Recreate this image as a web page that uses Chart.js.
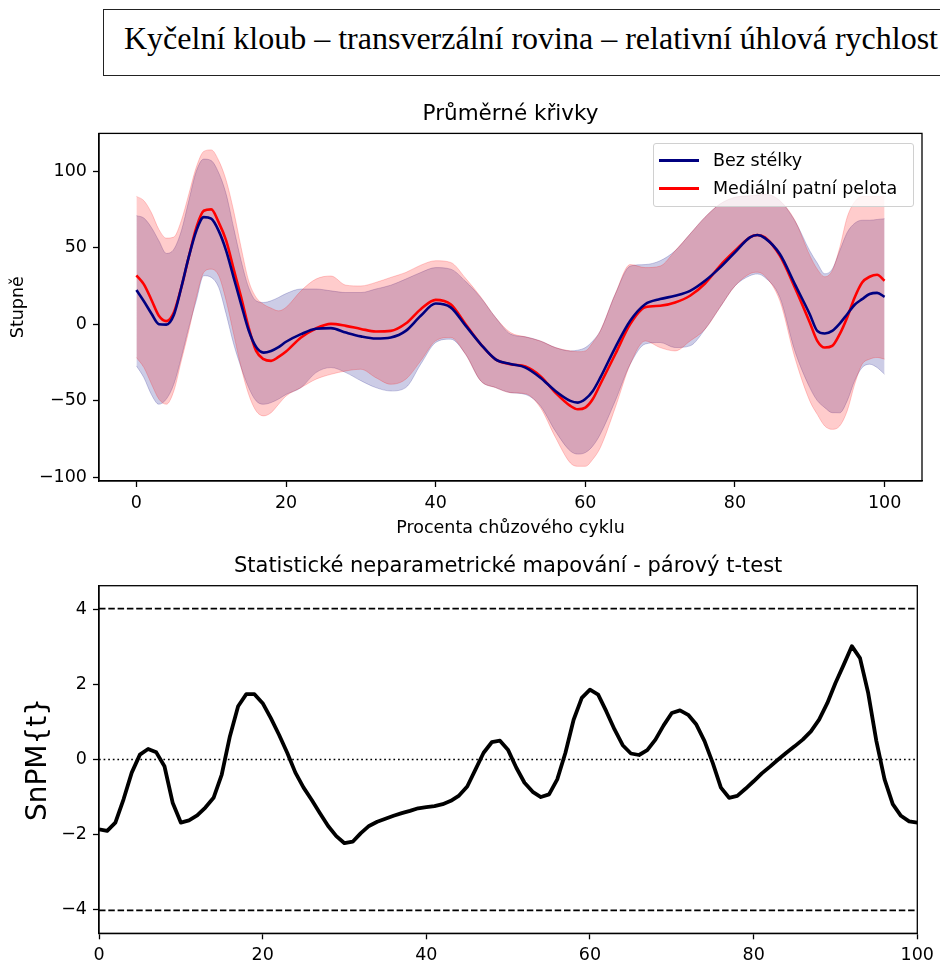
<!DOCTYPE html>
<html>
<head>
<meta charset="utf-8">
<script src="https://cdn.jsdelivr.net/npm/chart.js@4.4.1/dist/chart.umd.min.js"></script>
<style>
  body { margin: 0; background: #fff; width: 940px; height: 963px; position: relative; overflow: hidden; font-family: "DejaVu Sans"; }
  #header { position: absolute; left: 103px; top: 9px; width: 900px; height: 65px; border: 1px solid #222;
            font-family: "Liberation Serif"; font-size: 32px; line-height: 57px; padding-left: 20px;
            white-space: nowrap; color: #000; }
  #wrapTop { position: absolute; left: 0; top: 92px; width: 940px; height: 453px; }
  #wrapBottom { position: absolute; left: 0; top: 545px; width: 940px; height: 418px; }
  #legend { position: absolute; left: 653px; top: 143px; width: 259px; height: 62px; border: 1px solid #d0d0d0;
            border-radius: 3px; background: rgba(255,255,255,0.8); }
  #legend .sw { position: absolute; left: 5px; width: 40px; height: 3px; }
  #legend .lb { position: absolute; left: 59px; font-size: 17.5px; line-height: 20px; color: #000; white-space: nowrap; }
</style>
</head>
<body>
<div id="header">Kyčelní kloub – transverzální rovina – relativní úhlová rychlost</div>
<div id="wrapTop"><canvas id="meanChart" width="940" height="453"></canvas></div>
<div id="wrapBottom"><canvas id="spmChart" width="940" height="418"></canvas></div>
<div id="legend"></div>
<script>
// ---- top chart: mean curves with SD bands ----
var cycle = [0,1,2,3,4,5,6,7,8,9,10,11,12,13,14,15,16,17,18,19,20,22,24,26,28,30,32,34,36,38,40,42,44,46,48,50,52,54,56,58,59,60,61,62,64,66,68,70,72,74,76,78,80,82,83,84,86,88,90,91,92,93,94,95,96,97,98,99,100];

var bezMean = [22.3,15,7,0,-0.3,6,24,44,61,70,69,61,48,30.5,13,-4,-15,-18.6,-17.5,-15,-11.5,
  -6.5,-3,-2.6,-5.5,-8,-9.4,-8.7,-4.4,5.5,13.5,11,-1,-13,-23,-26,-28.4,-35,-43.7,-50.2,
  -51.3,-49,-43.7,-35,
  -15.3,2.2,13,16.4,18.6,21.8,28.4,37,47,56.8,58.3,
  56.3,45.9,26.2,6.5,
  -4.4,-6.1,-4.4,0.4,6.5,12.7,16.4,19.7,20.5,17.9];
var pelotaMean = [31.9,26,16,5.5,2,7.6,24,44,63,74.2,75.1,66.6,54.6,36,17.5,-2.2,-17.5,-22.9,-24,-21.4,-17.9,
  -8.7,-2.8,0.2,-1.1,-3.1,-4.8,-4.4,0.4,9.8,15.9,13,0,-13,-23,-26.2,-27.7,-34,-44.8,-53.5,
  -55.7,-54.6,-49,-39.3,
  -19.7,0,11,12,14.2,18.6,26.6,38.2,48,56.8,58.3,
  56.8,44.8,24,1.1,
  -10.9,-15.3,-14.2,-6.5,4.4,17.5,27.3,31,32.3,28.4];
var bezUpper = [71,69.4,63.3,54.6,46.3,49,61,80.8,100,108,107,99,85,63,41.5,24,15.3,14.2,15.3,17.5,20,
  23,23,21.8,20.7,20.7,23,25.5,29.5,33.8,37,36,28,17.5,4.4,-6.5,-8.3,-11,-15.3,-17.5,
  -17,-15.3,-11,-4.4,
  19.7,38,39,41.5,48,59,70,78.6,83,84,84.5,
  85,80.8,67.7,48,
  40,33,36,48,60,66,68,68,68.5,69];
var bezLower = [-27.3,-35,-46,-52.4,-49,-39.3,-21.8,-2.2,15.3,31.7,30.6,24,6.5,-13,-28.4,-41.5,-50.2,-52.4,-51.3,-49,-46,
  -41.5,-31.7,-28.4,-31.7,-37,-41.5,-43.7,-41.5,-26.2,-12,-9.8,-19.7,-37,-41.5,-44.8,-46,-53.5,-70,-83,
  -85,-84,-79.7,-72,
  -50.2,-26.2,-13,-12,-15.3,-14.2,-3.3,11,25,31.7,32.8,
  30.6,17.5,-17.5,-41.5,
  -50,-54.6,-57.9,-58,-50.2,-37,-28.4,-26.2,-28.4,-32.8];
var pelotaUpper = [83.6,80.8,73,62,56.3,57,67.7,85,102.6,113,114,107,94,74,50,28.4,17.5,13,10.5,8.7,11,
  21.8,29.5,31.5,25.5,25,27.3,30.6,33.8,38.6,41.5,40.4,30,18,4.4,-5.5,-8.3,-11,-15.3,-17.5,
  -18,-17.5,-12,-4.4,
  19.7,39,37,38,48,59,70,78.6,83,84,84.5,
  85,80.8,68,45,
  36,31,35,50,70,80,83.5,83.5,83.5,83.5];
var pelotaLower = [-21.8,-28.4,-39,-49,-52.4,-43.7,-24,-4.4,17.5,33.8,36,31.7,15.3,-6.5,-28.4,-45.9,-56.8,-60,-57.9,-52.4,-47,
  -41.5,-36,-32.8,-30.6,-29.5,-35,-39.3,-36,-24,-10.9,-8.7,-19.7,-37,-41.5,-44.8,-45.5,-54.6,-74,-90.8,
  -93,-93,-88.4,-80.8,
  -54.6,-26.2,-11,-15.3,-17.5,-11,-3.3,11,25,33,34,
  31.5,15.3,-21.8,-50.2,
  -59,-66.6,-68.8,-66.6,-56.8,-39.3,-26.2,-22.9,-21.8,-22.9];

var xTicks = [0,20,40,60,80,100];
var meanYTicks = [-100,-50,0,50,100];

// ---- bottom chart: SnPM{t} ----
var percent = [0,1,2,3,4,5,6,7,8,9,10,11,12,13,14,15,16,17,18,19,20,21,22,23,24,25,26,27,28,29,30,31,32,33,34,35,36,37,38,39,40,
  41,42,43,44,45,46,47,48,49,50,51,52,53,54,55,56,57,58,59,60,61,62,63,64,65,66,67,68,69,70,
  71,72,73,74,75,76,77,78,79,80,81,82,83,84,85,86,87,88,89,90,91,92,93,94,95,96,97,98,99,100];
var snpmT = [-1.86,-1.9,-1.68,-1.06,-0.35,0.13,0.28,0.19,-0.18,-1.15,-1.68,-1.62,-1.49,-1.28,-1.02,-0.4,0.62,1.42,1.74,1.74,1.5,
  1.1,0.66,0.18,-0.35,-0.75,-1.08,-1.43,-1.77,-2.04,-2.23,-2.19,-1.96,-1.77,-1.66,-1.58,-1.5,-1.43,-1.37,-1.3,-1.27,
  -1.24,-1.19,-1.1,-0.96,-0.72,-0.27,0.18,0.46,0.5,0.25,-0.22,-0.62,-0.86,-1.0,-0.93,-0.53,0.18,1.06,1.64,1.86,
  1.73,1.28,0.8,0.38,0.16,0.12,0.25,0.53,0.91,1.24,1.31,1.19,0.93,0.49,-0.09,-0.75,-1.02,-0.97,-0.78,-0.58,
  -0.37,-0.19,0,0.18,0.35,0.53,0.75,1.06,1.5,2.04,2.52,3.02,2.7,1.77,0.49,-0.53,-1.19,-1.5,-1.65,-1.68];
var critUpper = 4.02;
var critLower = -4.02;
var spmYTicks = [-4,-2,0,2,4];

Chart.defaults.font.family = "'DejaVu Sans'";
Chart.defaults.color = '#000';

function pts(xs, ys){
  var out = [];
  for (var i = 0; i < xs.length; i++) out.push({x: xs[i], y: ys[i]});
  return out;
}

function minusSign(v){
  return String(v).replace('-', '\u2212');
}

function fixedTicks(list){
  return function(scale){
    scale.ticks = list.map(function(v){ return {value: v}; });
  };
}

var framePlugin = {
  id: 'frame',
  afterDraw: function(chart){
    var a = chart.chartArea, ctx = chart.ctx;
    ctx.save();
    ctx.strokeStyle = '#000';
    ctx.lineWidth = 1.3;
    ctx.strokeRect(a.left, a.top, a.right - a.left, a.bottom - a.top);
    ctx.restore();
  }
};

function axis(min, max, ticks, fitFn, title){
  return {
    type: 'linear', min: min, max: max,
    afterBuildTicks: fixedTicks(ticks),
    afterFit: fitFn,
    ticks: { font: {size: 17.5}, color: '#000', padding: 6, maxRotation: 0, autoSkip: false, callback: minusSign },
    grid: { drawOnChartArea: false, drawTicks: true, tickLength: 6, tickColor: '#000', tickWidth: 1.3 },
    border: { display: true, color: '#000', width: 1.3 },
    title: title || { display: false }
  };
}

var lineColors = {bez: '#000080', pelota: '#ff0000'};

var meanData = {
  datasets: [
    {label: 'Bez stélky', data: pts(cycle, bezMean), borderColor: lineColors.bez, borderWidth: 2.6, order: 0, fill: false},
    {label: 'Mediální patní pelota', data: pts(cycle, pelotaMean), borderColor: lineColors.pelota, borderWidth: 2.6, order: 0, fill: false},
    {label: 'bez+sd', data: pts(cycle, bezUpper), borderColor: 'rgba(0,0,128,0.2)', borderWidth: 1,
      backgroundColor: 'rgba(0,0,128,0.2)', fill: '+1', order: 2},
    {label: 'bez-sd', data: pts(cycle, bezLower), borderColor: 'rgba(0,0,128,0.2)', borderWidth: 1, fill: false, order: 2},
    {label: 'pelota+sd', data: pts(cycle, pelotaUpper), borderColor: 'rgba(255,0,0,0.2)', borderWidth: 1,
      backgroundColor: 'rgba(255,0,0,0.2)', fill: '+1', order: 1},
    {label: 'pelota-sd', data: pts(cycle, pelotaLower), borderColor: 'rgba(255,0,0,0.2)', borderWidth: 1, fill: false, order: 1}
  ]
};

new Chart(document.getElementById('meanChart').getContext('2d'), {
  type: 'line',
  data: meanData,
  options: {
    responsive: false, animation: false, events: [],
    layout: { padding: {left: 0, right: 18, top: 0, bottom: 0} },
    elements: { point: {radius: 0}, line: {cubicInterpolationMode: 'monotone', borderJoinStyle: 'round'} },
    plugins: {
      legend: {display: false}, tooltip: {enabled: false},
      title: { display: true, fullSize: false, text: 'Průměrné křivky', color: '#000',
               font: {size: 21.5, weight: 'normal'}, padding: {top: 9.4, bottom: 6.2} }
    },
    scales: {
      x: axis(-5, 105, xTicks, function(s){ s.height = 64; },
             { display: true, text: 'Procenta chůzového cyklu', color: '#000', font: {size: 17.5}, padding: {top: 0, bottom: 6.5} }),
      y: axis(-102.6, 124.8, meanYTicks, function(s){ s.width = 99; },
             { display: true, text: 'Stupně', color: '#000', font: {size: 17.5}, padding: {top: 8, bottom: 0} })
    }
  },
  plugins: [framePlugin]
});

// html legend built from the two mean datasets
var legendBox = document.getElementById('legend');
[0, 1].forEach(function(i){
  var ds = meanData.datasets[i];
  var sw = document.createElement('div');
  sw.className = 'sw';
  sw.style.top = (14.5 + i * 28) + 'px';
  sw.style.background = ds.borderColor;
  var lb = document.createElement('div');
  lb.className = 'lb';
  lb.style.top = (6 + i * 28) + 'px';
  lb.textContent = ds.label;
  legendBox.appendChild(sw);
  legendBox.appendChild(lb);
});

new Chart(document.getElementById('spmChart').getContext('2d'), {
  type: 'line',
  data: {
    datasets: [
      {label: 'SnPM{t}', data: pts(percent, snpmT), borderColor: '#000', borderWidth: 3.8, order: 0, fill: false},
      {label: 'upper threshold', data: pts([percent[0], percent[percent.length - 1]], [critUpper, critUpper]),
        borderColor: '#000', borderWidth: 1.7, borderDash: [6.5, 2.8], order: 1, fill: false},
      {label: 'lower threshold', data: pts([percent[0], percent[percent.length - 1]], [critLower, critLower]),
        borderColor: '#000', borderWidth: 1.7, borderDash: [6.5, 2.8], order: 1, fill: false},
      {label: 'zero', data: pts([percent[0], percent[percent.length - 1]], [0, 0]),
        borderColor: '#000', borderWidth: 1.7, borderDash: [1.7, 2.9], order: 1, fill: false}
    ]
  },
  options: {
    responsive: false, animation: false, events: [],
    layout: { padding: {left: 0, right: 18.3, top: 0, bottom: 0} },
    elements: { point: {radius: 0}, line: {tension: 0, borderJoinStyle: 'round'} },
    plugins: {
      legend: {display: false}, tooltip: {enabled: false},
      title: { display: true, fullSize: false, text: 'Statistické neparametrické mapování - párový t-test', color: '#000',
               font: {size: 21, weight: 'normal'}, padding: {top: 8.9, bottom: 6.6} }
    },
    scales: {
      x: axis(0, 100, xTicks, function(s){ s.height = 29.7; }),
      y: axis(-4.63, 4.63, spmYTicks, function(s){ s.width = 99; },
             { display: true, text: 'SnPM{t}', color: '#000', font: {size: 28}, padding: {top: 22, bottom: 0} })
    }
  },
  plugins: [framePlugin]
});
</script>
</body>
</html>
